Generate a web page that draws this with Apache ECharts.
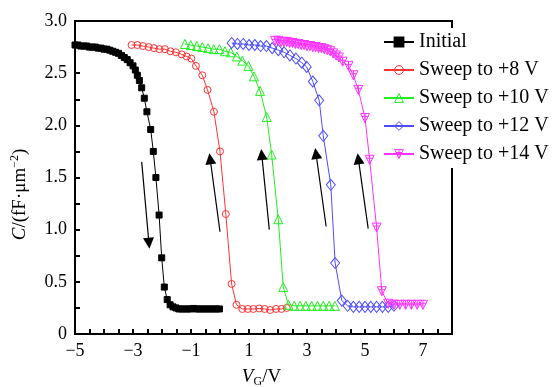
<!DOCTYPE html>
<html><head><meta charset="utf-8">
<script src="https://cdn.jsdelivr.net/npm/echarts@6/dist/echarts.min.js"></script>
<style>html,body{margin:0;padding:0;background:#fff}#c{width:555px;height:387px}</style>
</head><body><div id="c"></div>
<script>
const seriesNames = ['Initial','Sweep to +8 V','Sweep to +10 V','Sweep to +12 V','Sweep to +14 V'];
const initial = [[-5.0,2.77],[-4.9,2.77],[-4.8,2.76],[-4.7,2.76],[-4.6,2.76],[-4.5,2.75],[-4.4,2.75],[-4.3,2.75],[-4.2,2.74],[-4.1,2.74],[-4.0,2.73],[-3.9,2.73],[-3.8,2.72],[-3.7,2.71],[-3.6,2.70],[-3.5,2.69],[-3.4,2.67],[-3.3,2.65],[-3.2,2.63],[-3.1,2.60],[-3.0,2.57],[-2.92,2.53],[-2.85,2.48],[-2.78,2.43],[-2.70,2.36],[-2.61,2.26],[-2.52,2.13],[-2.39,1.96],[-2.30,1.75],[-2.21,1.50],[-2.10,1.14],[-2.01,0.73],[-1.92,0.45],[-1.82,0.33],[-1.72,0.28],[-1.62,0.26],[-1.52,0.25],[-1.42,0.24],[-1.32,0.24],[-1.22,0.24],[-1.12,0.24],[-1.02,0.24],[-0.92,0.245],[-0.82,0.24],[-0.72,0.24],[-0.62,0.24],[-0.52,0.24],[-0.42,0.24],[-0.32,0.24],[-0.22,0.24],[-0.12,0.24],[-0.02,0.24]];
const sweep8 = [[-3.05,2.77],[-2.85,2.77],[-2.66,2.76],[-2.46,2.75],[-2.28,2.74],[-2.09,2.73],[-1.90,2.73],[-1.71,2.71],[-1.52,2.70],[-1.32,2.68],[-1.15,2.66],[-0.99,2.64],[-0.83,2.57],[-0.61,2.48],[-0.43,2.34],[-0.21,2.13],[0.0,1.75],[0.20,1.15],[0.40,0.48],[0.57,0.28],[0.77,0.24],[0.96,0.24],[1.15,0.24],[1.35,0.245],[1.54,0.24],[1.73,0.23],[1.93,0.24],[2.12,0.24],[2.30,0.25]];
const sweep10 = [[-1.21,2.78],[-1.01,2.77],[-0.80,2.76],[-0.61,2.75],[-0.41,2.74],[-0.22,2.73],[-0.02,2.73],[0.17,2.71],[0.37,2.70],[0.58,2.66],[0.77,2.62],[0.98,2.57],[1.17,2.47],[1.38,2.33],[1.61,2.08],[1.78,1.72],[2.01,1.10],[2.18,0.45],[2.36,0.28],[2.56,0.27],[2.76,0.27],[2.96,0.27],[3.16,0.27],[3.36,0.27],[3.56,0.27],[3.76,0.27],[3.96,0.27]];
const sweep12 = [[0.40,2.79],[0.60,2.78],[0.80,2.78],[1.00,2.77],[1.20,2.77],[1.40,2.76],[1.60,2.76],[1.80,2.74],[2.01,2.72],[2.21,2.70],[2.41,2.67],[2.62,2.64],[2.82,2.60],[2.99,2.56],[3.20,2.42],[3.42,2.24],[3.56,1.90],[3.82,1.43],[3.97,0.68],[4.20,0.32],[4.40,0.27],[4.60,0.26],[4.80,0.26],[5.00,0.26],[5.20,0.26],[5.40,0.26],[5.60,0.26],[5.80,0.26],[6.00,0.27]];
const sweep14 = [[1.90,2.81],[2.00,2.81],[2.10,2.80],[2.20,2.80],[2.30,2.80],[2.40,2.79],[2.50,2.79],[2.60,2.78],[2.70,2.78],[2.80,2.77],[2.90,2.77],[3.00,2.76],[3.10,2.76],[3.20,2.75],[3.30,2.75],[3.40,2.74],[3.50,2.74],[3.60,2.73],[3.70,2.72],[3.80,2.71],[3.90,2.69],[4.00,2.67],[4.10,2.65],[4.23,2.61],[4.43,2.57],[4.60,2.48],[4.77,2.34],[5.00,2.07],[5.16,1.67],[5.40,1.02],[5.58,0.41],[5.80,0.29],[6.00,0.28],[6.20,0.28],[6.40,0.28],[6.60,0.28],[6.80,0.28],[7.00,0.28]];
const arrows = [[[-2.70,1.65],[-2.45,0.87]],[[0.0,0.98],[-0.34,1.68]],[[1.70,1.00],[1.44,1.72]],[[3.66,1.03],[3.31,1.73]],[[5.11,1.01],[4.77,1.68]]];
const xLabels = [-5,-3,-1,1,3,5,7];
const yLabels = [0,0.5,1.0,1.5,2.0,2.5,3.0];

const FONT = 'Liberation Serif';
const COLORS = ['#000000','#ff3333','#22ee22','#4d4dff','#ff33ff'];
const chart = echarts.init(document.getElementById('c'), null, {renderer:'canvas'});
const HOLLOW = 'rgba(255,255,255,0)';
function mk(name, data, color, symbol, size, filled){
  return {
    name, type:'line', data, symbol, symbolSize:size,
    lineStyle:{color, width:1},
    itemStyle:{color: filled ? color : HOLLOW, borderColor: color, borderWidth:1},
    emphasis:{disabled:true}, z:3
  };
}
const triPlus = 'path://M0,0 L10,0 L5,9 Z M5,0 L5,9 M1.5,3 L8.5,3';
const fmtMinus = v => String(v).replace('-', '\u2212');
chart.setOption({
  animation:false,
  grid:{left:75, right:103, top:21, bottom:53, show:true, borderColor:'#000', borderWidth:2, outerBoundsMode:'none', containLabel:false},
  legend:{
    data:seriesNames.map((n,i) => ({name:n, itemStyle: i === 0 ? {color:COLORS[0]} : {color:HOLLOW, borderColor:COLORS[i], borderWidth:1}})),
    orient:'vertical', left:383, top:28,
    itemWidth:30, itemHeight:11, itemGap:8,
    backgroundColor:'#fff', padding:[4,4,4,0],
    textStyle:{fontFamily:FONT, fontSize:20, color:'#000'}
  },
  xAxis:{
    type:'value', min:-5, max:8, interval:0.5,
    axisLine:{onZero:false, lineStyle:{color:'#000', width:2}},
    axisTick:{inside:true, length:5, lineStyle:{color:'#000', width:2}},
    splitLine:{show:false},
    axisLabel:{margin:8, color:'#000', fontFamily:FONT, fontSize:18,
      formatter: v => xLabels.some(l => Math.abs(l - v) < 1e-6) ? fmtMinus(v) : ''},
    name:'{i|V}{s|G}/V', nameLocation:'middle', nameGap:32,
    nameTextStyle:{fontFamily:FONT, fontSize:19, color:'#000', padding:[0,4,0,0],
      rich:{i:{fontStyle:'italic', fontFamily:FONT, fontSize:19}, s:{fontFamily:FONT, fontSize:12, padding:[10,0,0,0]}}}
  },
  yAxis:{
    type:'value', min:0, max:3, interval:0.25,
    axisLine:{onZero:false, lineStyle:{color:'#000', width:2}},
    axisTick:{inside:true, length:5, lineStyle:{color:'#000', width:2}},
    splitLine:{show:false},
    axisLabel:{margin:8, color:'#000', fontFamily:FONT, fontSize:18,
      formatter: v => { const l = yLabels.find(x => Math.abs(x - v) < 1e-6); return l === undefined ? '' : (l === 0 ? '0' : l.toFixed(1)); }},
    name:'{i|C}/(fF·μm{s|−2})', nameLocation:'middle', nameGap:44,
    nameTextStyle:{fontFamily:FONT, fontSize:19, color:'#000', padding:[0,34,0,0],
      rich:{i:{fontStyle:'italic', fontFamily:FONT, fontSize:19}, s:{fontFamily:FONT, fontSize:12, padding:[0,0,10,0]}}}
  },
  series:[
    mk(seriesNames[0], initial, COLORS[0], 'rect', 6, true),
    mk(seriesNames[1], sweep8, COLORS[1], 'circle', 7, false),
    mk(seriesNames[2], sweep10, COLORS[2], 'triangle', 9, false),
    mk(seriesNames[3], sweep12, COLORS[3], 'diamond', [9,11], false),
    mk(seriesNames[4], sweep14, COLORS[4], triPlus, 9, false),
    {type:'lines', coordinateSystem:'cartesian2d', z:4,
     data: arrows.map(a => ({coords:a})),
     symbol:['none','path://M5,0 L10,16 L0,16 Z'], symbolSize:[4,11],
     lineStyle:{color:'#000', width:1.2, opacity:1}, silent:true}
  ]
});
</script></body></html>
